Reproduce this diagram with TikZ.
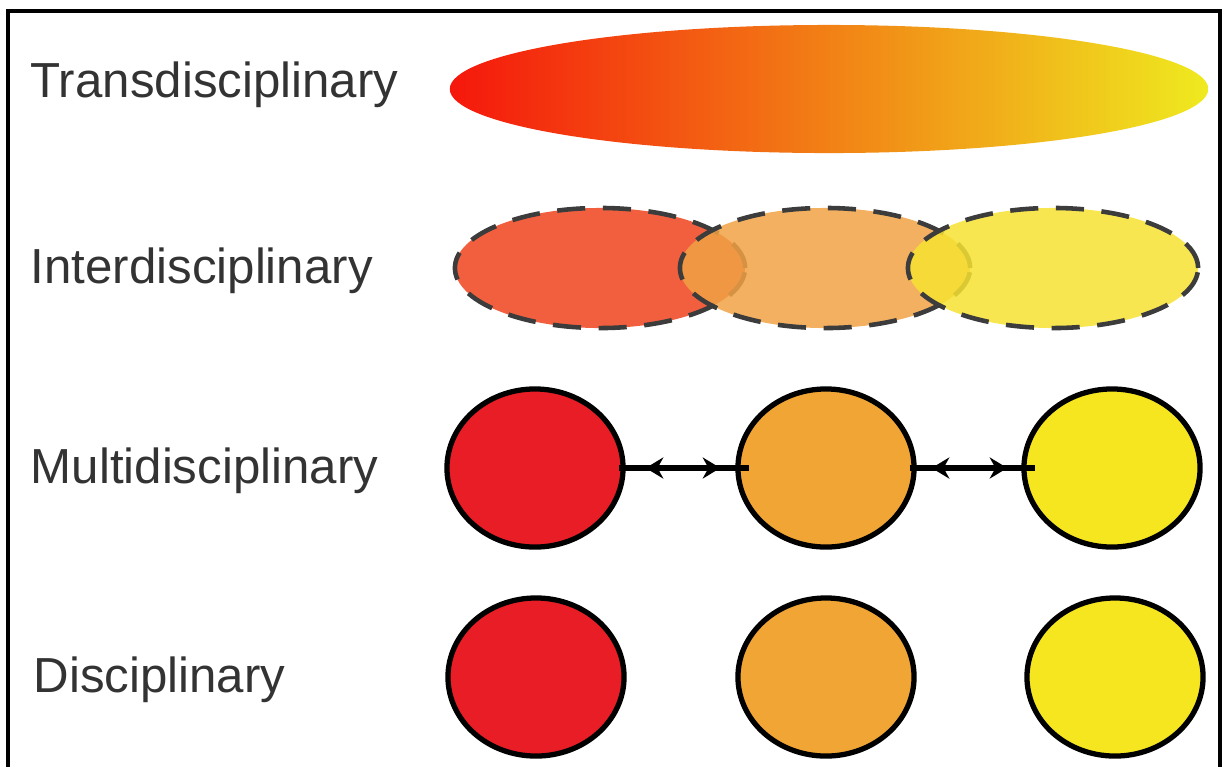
\documentclass[tikz,border=0pt]{standalone}
\usepackage{fontspec}
\setmainfont{Liberation Sans}
\usetikzlibrary{shapes.geometric}
\usetikzlibrary{arrows.meta}

\definecolor{labelgray}{HTML}{333333}
\definecolor{dashgray}{HTML}{3C3C3C}
\definecolor{transred}{HTML}{F5170C}
\definecolor{transorange}{HTML}{F88A10}
\definecolor{transyellow}{HTML}{EFEA1F}
\definecolor{interred}{HTML}{F0431C}
\definecolor{interorange}{HTML}{F1A244}
\definecolor{interyellow}{HTML}{F6E231}
\definecolor{discred}{HTML}{E81D25}
\definecolor{discorange}{HTML}{F0A535}
\definecolor{discyellow}{HTML}{F5E620}

\begin{document}
\begin{tikzpicture}[x=0.01cm,y=-0.01cm,
  lbl/.style={anchor=base west,inner sep=0,text=labelgray,font=\fontsize{14}{16}\selectfont},
  disc/.style={ellipse,draw=black,line width=1.5pt,inner sep=0,minimum width=1.76cm,minimum height=1.58cm},
  blob/.style={ellipse,draw=dashgray,line width=1.3pt,dash pattern=on 8pt off 5pt,fill opacity=0.85,inner sep=0,minimum width=2.9cm,minimum height=1.2cm},
  link/.style={line width=1.6pt,shorten <=-2pt,shorten >=-4pt},
  linkhead/.style={line width=1.6pt,{Stealth[length=5pt,width=6pt]}-{Stealth[length=5pt,width=6pt]}}]
\useasboundingbox (0,0) rectangle (1225,766);
\draw[line width=1.3pt] (8,770) -- (8,11) -- (1220,11) -- (1220,770);

% labels
\node[lbl] (ltrans) at (30,97) {Transdisciplinary};
\node[lbl] (linter) at (30,283) {Interdisciplinary};
\node[lbl] (lmulti) at (30,483) {Multidisciplinary};
\node[lbl] (ldisc) at (33,692) {Disciplinary};

% transdisciplinary
\node[ellipse,inner sep=0,minimum width=7.58cm,minimum height=1.28cm,
  left color=transred,middle color=transorange,right color=transyellow] (trans) at (829,89) {};

% interdisciplinary
\node[blob,fill=interred] (i1) at (600,268) {};
\node[blob,fill=interorange] (i2) at (825,268) {};
\node[blob,fill=interyellow] (i3) at (1053,268) {};

% multidisciplinary
\node[disc,fill=discred] (m1) at (535,468) {};
\node[disc,fill=discorange] (m2) at (826,468) {};
\node[disc,fill=discyellow] (m3) at (1112,468) {};
\draw[link] (m1.east) -- (m2.west);
\draw[link] (m2.east) -- (m3.west);
\draw[linkhead,shorten <=0.2cm,shorten >=0.15cm] (m1.east) -- (m2.west);
\draw[linkhead,shorten <=0.15cm,shorten >=0.14cm] (m2.east) -- (m3.west);

% disciplinary
\node[disc,fill=discred] (d1) at (536,677) {};
\node[disc,fill=discorange] (d2) at (826,677) {};
\node[disc,fill=discyellow] (d3) at (1115,677) {};
\end{tikzpicture}
\end{document}
